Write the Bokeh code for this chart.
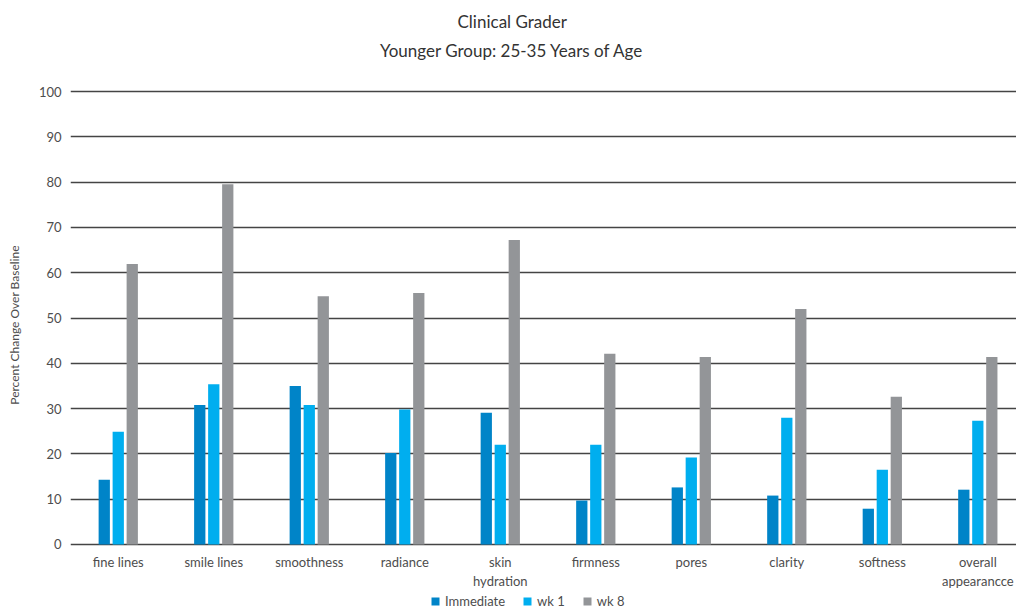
from bokeh.plotting import figure
from bokeh.models import ColumnDataSource, Range1d, FixedTicker, Legend, LegendItem, Title, Label
from bokeh.core.properties import value
from bokeh.transform import dodge
from bokeh.embed import file_html
from bokeh.resources import INLINE

# ---- data ----
categories = ["fine lines", "smile lines", "smoothness", "radiance", "skin\nhydration",
              "firmness", "pores", "clarity", "softness", "overall\nappearancce"]
immediate = [14.3, 30.8, 35.0, 20.2, 29.1, 9.7, 12.6, 10.8, 7.9, 12.1]
wk1 = [24.9, 35.4, 30.8, 29.8, 22.0, 22.0, 19.2, 28.0, 16.5, 27.3]
wk8 = [61.9, 79.5, 54.8, 55.5, 67.2, 42.1, 41.4, 52.0, 32.6, 41.4]
series_names = ["Immediate", "wk 1", "wk 8"]
series_colors = ["#0084C8", "#00AEEF", "#939598"]
y_ticks = [0, 10, 20, 30, 40, 50, 60, 70, 80, 90, 100]
title_text = "Clinical Grader"
subtitle_text = "Younger Group: 25-35 Years of Age"
y_label = "Percent Change Over Baseline"

FONT = "Lato"
TXT = "#4d4d4d"
x_idx = list(range(len(categories)))
source = ColumnDataSource(dict(x=x_idx, immediate=immediate, wk1=wk1, wk8=wk8))
label_source = ColumnDataSource(dict(x=x_idx, label=categories))

p = figure(width=1016, height=609,
           x_range=Range1d(-0.5, 9.405), y_range=Range1d(-14.35, 111.26),
           output_backend="svg", toolbar_location=None,
           min_border_left=70, min_border_right=0,
           min_border_top=40, min_border_bottom=0)
p.title.visible = False
p.outline_line_color = None
p.background_fill_color = "white"
p.border_fill_color = "white"

offsets = [-0.1466, 0.0, 0.1466]
fields = ["immediate", "wk1", "wk8"]
renderers = []
for f, off, col in zip(fields, offsets, series_colors):
    r = p.vbar(x=dodge("x", off), top=f, bottom=0, width=0.118, source=source,
               fill_color=col, line_color=None)
    renderers.append(r)

# category labels under the bars (9px below the zero line)
p.text(x="x", y=-1.99, text="label", source=label_source,
       text_align="center", text_baseline="top", text_line_height=1.2,
       text_font=value(FONT), text_font_size=value("13px"), text_color=TXT)

# y axis
p.yaxis.ticker = FixedTicker(ticks=y_ticks)
p.ygrid.ticker = FixedTicker(ticks=y_ticks)
p.yaxis.axis_line_color = None
p.yaxis.major_tick_line_color = None
p.yaxis.minor_tick_line_color = None
p.yaxis.major_tick_out = 0
p.yaxis.major_tick_in = 0
p.yaxis.major_label_text_font = FONT
p.yaxis.major_label_text_font_size = "13px"
p.yaxis.major_label_text_color = TXT
p.yaxis.major_label_standoff = 9
p.yaxis.axis_label = y_label
p.yaxis.axis_label_text_font = FONT
p.yaxis.axis_label_text_font_style = "normal"
p.yaxis.axis_label_text_font_size = "12px"
p.yaxis.axis_label_text_color = TXT
p.yaxis.axis_label_standoff = 14
p.xaxis.visible = False

p.xgrid.visible = False
p.ygrid.grid_line_color = "#444444"
p.ygrid.grid_line_width = 1.3

# titles
p.add_layout(Title(text=title_text, align="left", offset=387, standoff=17,
                   text_font=FONT, text_font_size="17px", text_font_style="normal",
                   text_color="#333333"), "above")
p.add_layout(Label(x=441.5, y=559, x_units="screen", y_units="screen", text=subtitle_text,
                   text_align="center", text_baseline="middle",
                   text_font=FONT, text_font_size="17px", text_color="#333333"))

legend = Legend(items=[LegendItem(label=n, renderers=[r]) for n, r in zip(series_names, renderers)],
                orientation="horizontal", location=(360, 0),
                padding=0, margin=0, spacing=17,
                glyph_width=10, glyph_height=10, label_standoff=5, label_height=12,
                label_text_font=FONT, label_text_font_size="13px", label_text_color=TXT,
                border_line_color=None, background_fill_alpha=0)
p.add_layout(legend)

open("out.html", "w").write(file_html(p, INLINE))
